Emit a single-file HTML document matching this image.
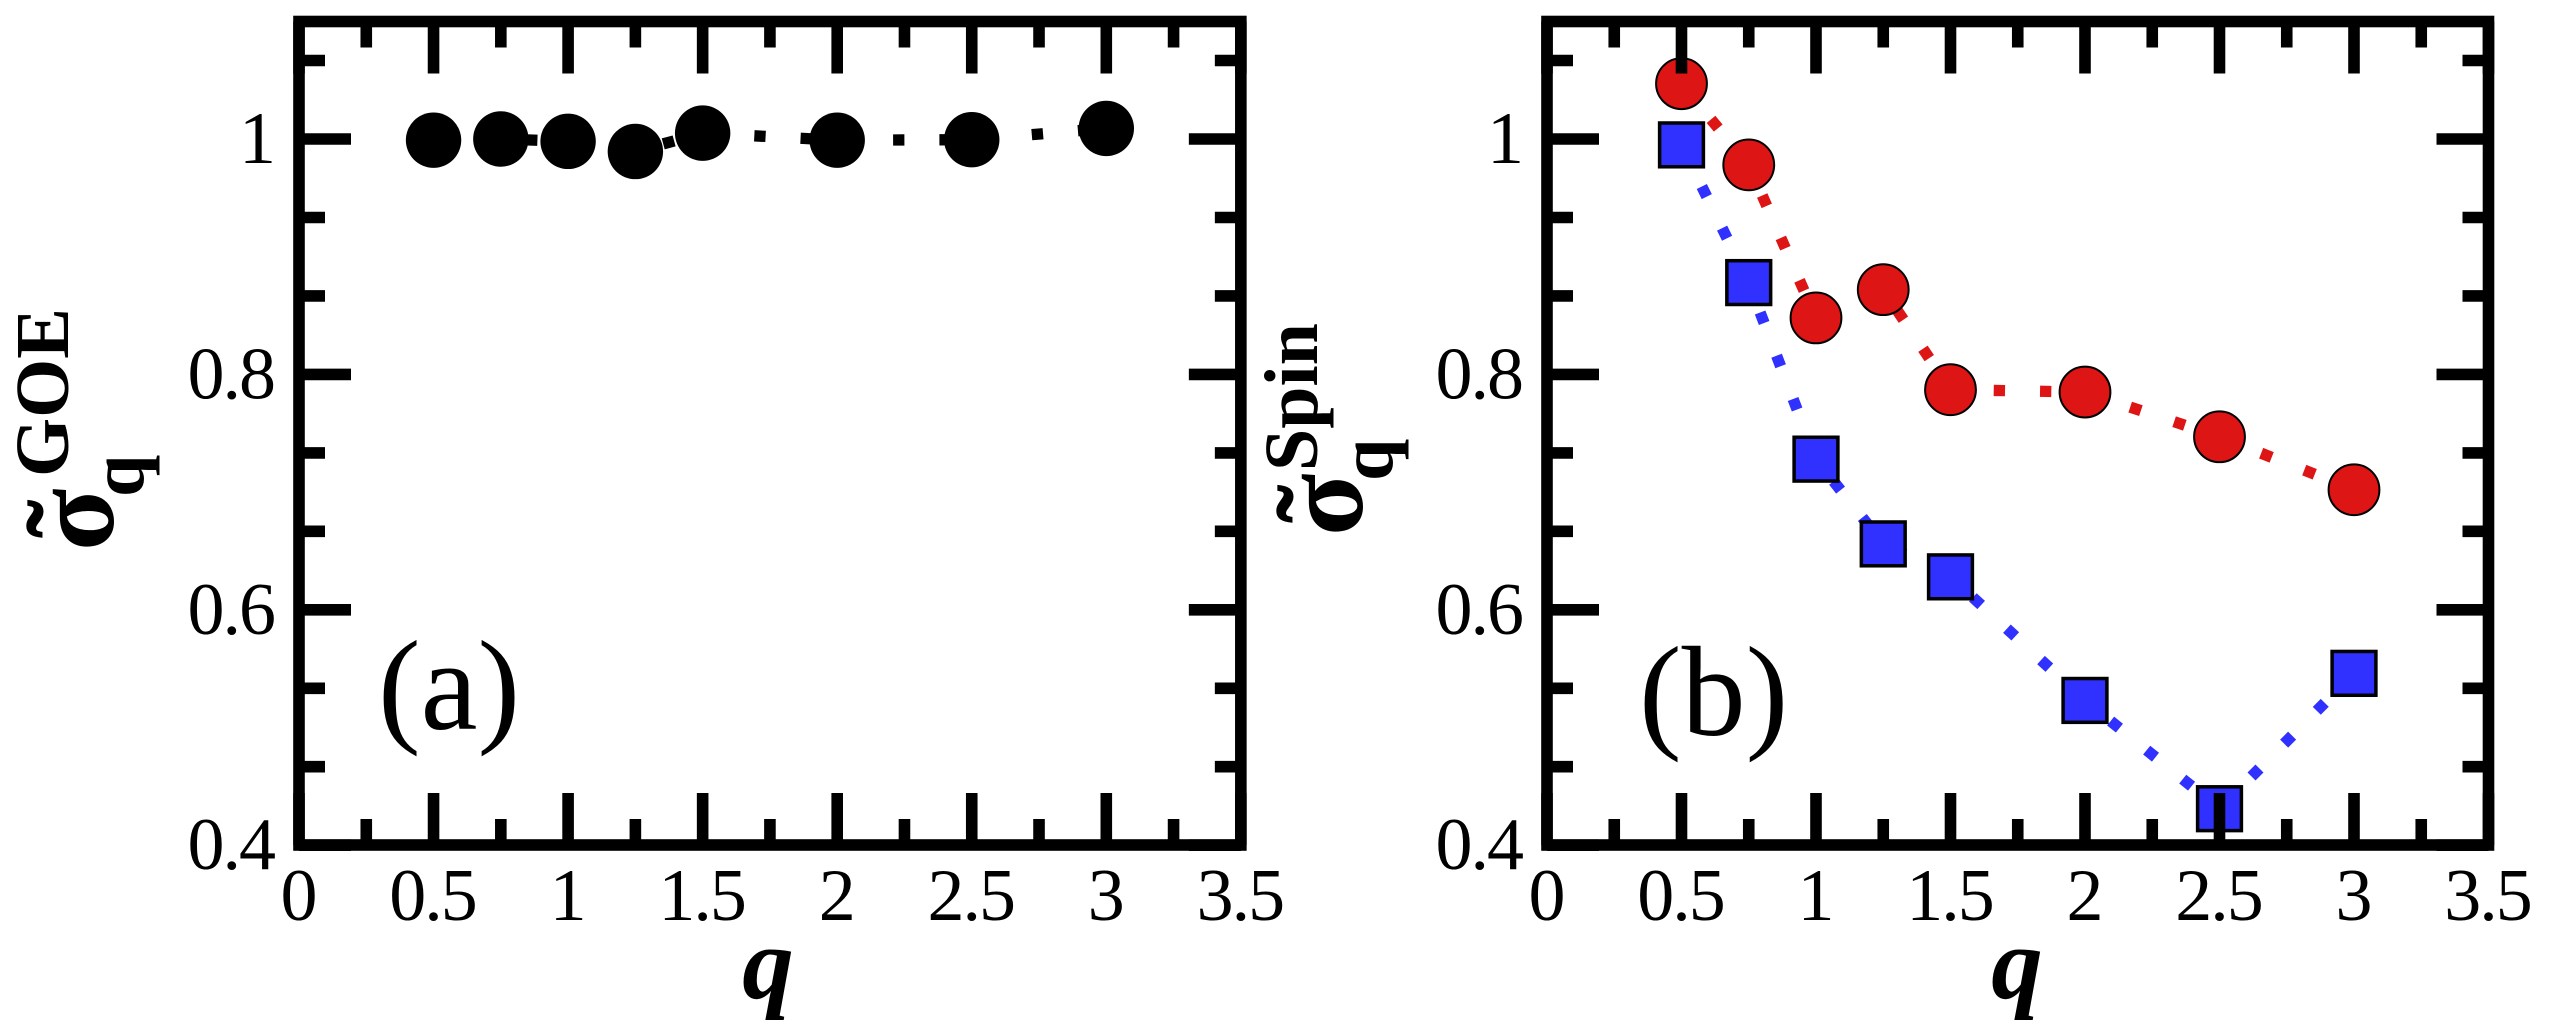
<!DOCTYPE html>
<html>
<head>
<meta charset="utf-8">
<title>Sigma q panels</title>
<style>
html,body{margin:0;padding:0;background:#fff;width:2562px;height:1032px;overflow:hidden}
svg{display:block}
text{font-family:"Liberation Serif",serif;fill:#000}
.tick-label{font-size:74px;letter-spacing:-2px}
.axis-q{font-size:103px;font-weight:bold;font-style:italic}
.panel-tag{font-size:128px}
.ttl-main{font-size:115px;font-weight:bold}
.ttl-sub{font-size:76px;font-weight:bold}
</style>
</head>
<body>
<svg id="chart" xmlns="http://www.w3.org/2000/svg" width="2562" height="1032" viewBox="0 0 2562 1032">
  <rect x="0" y="0" width="2562" height="1032" fill="#fff"/>
  <g id="panel-a"></g>
  <g id="panel-b"></g>

  <text class="axis-q" x="768" y="998" text-anchor="middle">q</text>
  <text class="axis-q" x="2017" y="998" text-anchor="middle">q</text>
  <text class="panel-tag" x="378" y="729">(a)</text>
  <text class="panel-tag" x="1639" y="735">(b)</text>

  <g>
    <text class="ttl-main" transform="translate(113,551) rotate(-90)">σ</text>
    <text class="ttl-main" transform="translate(107,538) rotate(-90)">˜</text>
    <text class="ttl-sub" transform="translate(143,497) rotate(-90)">q</text>
    <text class="ttl-sub" transform="translate(68,477) rotate(-90)">GOE</text>
  </g>
  <g>
    <text class="ttl-main" transform="translate(1362,536) rotate(-90)">σ</text>
    <text class="ttl-main" transform="translate(1357,523) rotate(-90)">˜</text>
    <text class="ttl-sub" transform="translate(1392,481) rotate(-90)">q</text>
    <text class="ttl-sub" transform="translate(1317,471) rotate(-90)">Spin</text>
  </g>
</svg>
<script>
const qValues = [0.5, 0.75, 1, 1.25, 1.5, 2, 2.5, 3];
const goeValues = [0.999, 1.0, 0.998, 0.9894, 1.005, 0.999, 0.9994, 1.009];
const spinRedValues = [1.047, 0.978, 0.848, 0.872, 0.787, 0.785, 0.747, 0.702];
const spinBlueValues = [0.995, 0.878, 0.728, 0.656, 0.628, 0.523, 0.431, 0.546];
const xMajorTicks = [0, 0.5, 1, 1.5, 2, 2.5, 3, 3.5];
const xTickLabels = ["0", "0.5", "1", "1.5", "2", "2.5", "3", "3.5"];
const xMinorTicks = [0.25, 0.75, 1.25, 1.75, 2.25, 2.75, 3.25];
const yMajorTicks = [0.4, 0.6, 0.8, 1];
const yTickLabels = ["0.4", "0.6", "0.8", "1"];
const yMinorTicks = [0.4667, 0.5333, 0.6667, 0.7333, 0.8667, 0.9333, 1.0667];

const NS = "http://www.w3.org/2000/svg";
const Y_ONE = 139, Y_SCALE = 1177;
const Y_BOTTOM = 845, Y_TOP = 21.5;
const MAJOR = 52, MINOR = 26, TICK_W = 11.6;

function sy(v) { return Y_ONE + (1 - v) * Y_SCALE; }
function make(tag, attrs, parent) {
  const el = document.createElementNS(NS, tag);
  for (const k in attrs) el.setAttribute(k, attrs[k]);
  parent.appendChild(el);
  return el;
}

function drawLine(g, sx, xs, ys, color, name) {
  const pts = xs.map((x, i) => sx(x) + "," + sy(ys[i])).join(" ");
  const el = make("polyline", {points: pts, fill: "none", stroke: color, "stroke-width": 11.3, "stroke-dasharray": "11.3 35"}, g);
  
  
}
function drawCircles(g, sx, xs, ys, fill, stroke, sw, r, name) {
  xs.forEach((x, i) => {
    const el = make("circle", {cx: sx(x), cy: sy(ys[i]), r: r, fill: fill, stroke: stroke, "stroke-width": sw}, g);
    
    
  });
}
function drawSquares(g, sx, xs, ys, fill, stroke, sw, size, name) {
  xs.forEach((x, i) => {
    const el = make("rect", {x: sx(x) - size / 2, y: sy(ys[i]) - size / 2, width: size, height: size, fill: fill, stroke: stroke, "stroke-width": sw}, g);
    
    
  });
}
function drawAxes(g, sx) {
  const L = sx(0), R = sx(3.5);
  xMajorTicks.concat(xMinorTicks).forEach((v, i) => {
    const len = i < xMajorTicks.length ? MAJOR : MINOR;
    [[Y_BOTTOM, Y_BOTTOM - len], [Y_TOP, Y_TOP + len]].forEach(p => {
      const el = make("line", {x1: sx(v), x2: sx(v), y1: p[0], y2: p[1], stroke: "#000", "stroke-width": TICK_W}, g);
      
      
    });
  });
  yMajorTicks.concat(yMinorTicks).forEach((v, i) => {
    const len = i < yMajorTicks.length ? MAJOR : MINOR;
    [[L, L + len], [R, R - len]].forEach(p => {
      const el = make("line", {x1: p[0], x2: p[1], y1: sy(v), y2: sy(v), stroke: "#000", "stroke-width": TICK_W}, g);
      
      
    });
  });
  const frame = make("rect", {x: L, y: Y_TOP, width: R - L, height: Y_BOTTOM - Y_TOP, fill: "none", stroke: "#000", "stroke-width": 11.6}, g);
  
  
  xMajorTicks.forEach((v, i) => {
    const t = make("text", {x: sx(v) - 1, y: 920, "text-anchor": "middle", class: "tick-label"}, g);
    t.textContent = xTickLabels[i];
    
    
  });
  yMajorTicks.forEach((v, i) => {
    const t = make("text", {x: L - 25, y: sy(v) + 24, "text-anchor": "end", class: "tick-label"}, g);
    t.textContent = yTickLabels[i];
    
    
  });
}

const sxA = v => 299 + 269.1 * v;
const sxB = v => 1547 + 269 * v;
const gA = document.getElementById("panel-a");
const gB = document.getElementById("panel-b");

drawLine(gA, sxA, qValues, goeValues, "#000", "goe-line");
drawCircles(gA, sxA, qValues, goeValues, "#000", "none", 0, 27.7, "goe-point");
drawAxes(gA, sxA);

drawLine(gB, sxB, qValues, spinRedValues, "#dd1515", "spin-red-line");
drawLine(gB, sxB, qValues, spinBlueValues, "#3030ff", "spin-blue-line");
drawCircles(gB, sxB, qValues, spinRedValues, "#dd1515", "#000", 2, 25.4, "spin-red-point");
drawSquares(gB, sxB, qValues, spinBlueValues, "#3030ff", "#000", 3.5, 43.8, "spin-blue-point");
drawAxes(gB, sxB);
</script>
</body>
</html>
